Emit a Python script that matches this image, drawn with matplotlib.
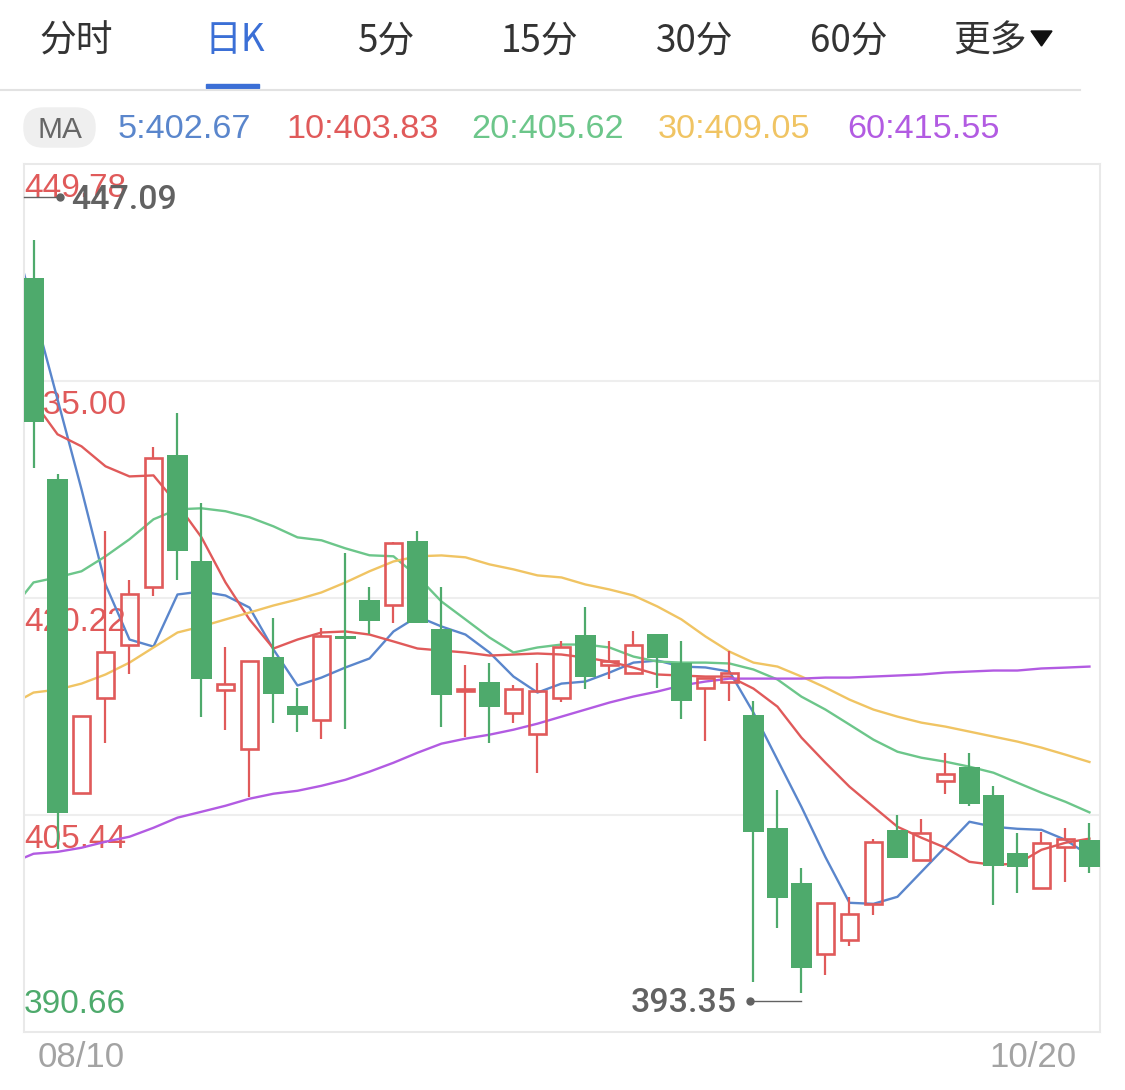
import numpy as np
import matplotlib.pyplot as plt
from matplotlib.patches import FancyBboxPatch, Rectangle, Polygon
from matplotlib.lines import Line2D
from matplotlib.transforms import blended_transform_factory, offset_copy

W, H = 1125, 1090

# daily candles, 08/10 .. 10/20
open_p = [442.00, 428.30, 406.96, 413.44, 417.05, 420.94, 429.94, 422.71, 413.98, 409.96,
          416.23, 412.89, 411.94, 417.64, 420.05, 419.71, 424.08, 418.08, 413.91, 414.53,
          412.41, 410.98, 413.44, 417.73, 415.69, 415.14, 417.80, 415.82, 414.12, 414.53,
          412.28, 404.57, 400.82, 395.98, 396.94, 399.39, 404.43, 402.39, 407.77, 408.73,
          406.82, 402.86, 400.48, 403.27, 403.75]
high_p = [444.59, 428.65, 412.21, 424.76, 421.42, 430.49, 432.81, 426.67, 416.85, 415.96,
          418.89, 414.12, 418.21, 423.26, 420.94, 424.01, 424.76, 420.94, 415.69, 415.76,
          414.32, 415.82, 417.32, 419.64, 417.26, 417.94, 417.80, 417.26, 414.80, 416.64,
          413.23, 407.16, 401.84, 399.46, 399.87, 403.82, 405.46, 405.18, 409.68, 409.68,
          407.43, 404.23, 404.30, 404.57, 404.91]
low_p = [429.05, 403.14, 406.96, 410.37, 415.07, 420.33, 421.42, 412.14, 411.25, 406.69,
         411.73, 411.12, 410.64, 411.32, 417.80, 418.55, 418.55, 411.46, 410.78, 410.37,
         411.73, 408.32, 413.16, 414.05, 414.67, 415.01, 414.12, 412.00, 410.50, 413.23,
         394.07, 397.75, 393.35, 394.55, 396.53, 398.64, 402.52, 402.39, 406.89, 406.07,
         399.32, 400.14, 400.48, 400.89, 401.50]
close_p = [432.19, 405.59, 412.21, 416.51, 420.46, 429.74, 423.39, 414.73, 414.39, 415.96,
           413.71, 412.28, 417.60, 417.40, 418.62, 423.94, 418.55, 413.64, 414.05, 412.82,
           414.05, 413.91, 416.91, 414.87, 415.96, 417.05, 416.10, 413.23, 414.80, 415.08,
           404.30, 399.80, 395.02, 399.46, 398.71, 403.62, 402.52, 404.23, 408.25, 406.21,
           401.98, 401.91, 403.55, 403.82, 401.91]

# moving averages, first value is the day before 08/10 (line runs off the left edge)
ma5 = [446.03, 439.89, 433.76, 427.62, 421.14, 417.39, 416.91, 420.46, 420.66, 420.39, 419.57,
       416.71, 414.26, 414.80, 415.49, 416.10, 417.94, 418.96, 418.28, 417.73, 416.51,
       414.87, 413.78, 414.39, 414.53, 415.14, 415.82, 415.96, 415.55, 415.49, 415.21,
       412.41, 409.20, 405.99, 402.57, 399.46, 399.39, 399.87, 401.57, 403.27, 404.98,
       404.64, 404.50, 404.43, 403.75, 402.67]
ma10 = [435.80, 433.62, 431.37, 430.55, 429.19, 428.50, 428.57, 426.60, 424.35, 421.28, 418.76,
        416.78, 417.39, 417.87, 417.94, 417.73, 417.26, 416.78, 416.64, 416.51, 416.30,
        416.37, 416.44, 416.37, 416.16, 415.89, 415.48, 415.01, 414.94, 414.87, 414.87,
        414.05, 412.82, 410.71, 409.00, 407.37, 406.00, 404.64, 403.89, 403.21, 402.25,
        402.05, 402.12, 403.07, 403.55, 403.83]
ma20 = [419.23, 421.28, 421.63, 422.04, 423.06, 424.22, 425.58, 426.26, 426.33, 426.13, 425.72,
        425.10, 424.35, 424.15, 423.60, 423.13, 423.06, 421.69, 419.98, 418.76, 417.53,
        416.51, 416.85, 417.05, 417.05, 416.85, 416.23, 415.89, 415.82, 415.82, 415.76,
        415.35, 414.67, 413.50, 412.62, 411.60, 410.57, 409.75, 409.34, 409.07, 408.73,
        408.32, 407.64, 406.96, 406.34, 405.62]
ma30 = [412.89, 413.78, 413.98, 414.39, 415.01, 415.82, 416.85, 417.87, 418.28, 418.76, 419.23,
        419.71, 420.12, 420.60, 421.28, 422.04, 422.71, 423.06, 423.12, 422.99, 422.51,
        422.17, 421.76, 421.62, 421.14, 420.80, 420.39, 419.64, 418.76, 417.60, 416.57,
        415.82, 415.55, 414.87, 414.12, 413.30, 412.62, 412.14, 411.73, 411.46, 411.12,
        410.78, 410.44, 410.03, 409.55, 409.05]
ma60 = [402.12, 402.80, 402.93, 403.21, 403.62, 403.96, 404.57, 405.26, 405.66, 406.07, 406.55,
        406.89, 407.09, 407.43, 407.84, 408.39, 409.00, 409.68, 410.30, 410.64, 410.91,
        411.25, 411.66, 412.14, 412.62, 413.10, 413.51, 413.85, 414.26, 414.53, 414.73,
        414.73, 414.73, 414.73, 414.80, 414.80, 414.87, 414.94, 415.01, 415.14, 415.21,
        415.28, 415.28, 415.42, 415.48, 415.55]

ma_names = ['5', '10', '20', '30', '60']
ma_colors = ['#5a86cc', '#e05a5a', '#6cc68a', '#f0c463', '#b25be2']

y_ticks = [449.78, 435.00, 420.22, 405.44, 390.66]
peak_label = 447.09
date_labels = ['08/10', '10/20']
date_idx = [2, 44]

tabs = ['分时', '日K', '5分', '15分', '30分', '60分', '更多']
tab_x = [76, 235, 387, 540, 695, 849, 990]

RED = '#e05a5a'
GREEN = '#4eaa6c'
GREY = '#666666'
NUM_FONT = ['Liberation Sans', 'DejaVu Sans']
MARK_FONT = ['Roboto', 'Liberation Sans', 'DejaVu Sans']
CJK_FONT = ['Noto Sans CJK SC', 'DejaVu Sans']


def fx(x):
    return x / W


def fy(y):
    return 1 - y / H


fig = plt.figure(figsize=(W / 100, H / 100), dpi=100)
fig.patch.set_facecolor('white')

# ---- header: period tabs ----
for i, t in enumerate(tabs):
    c = '#3b6fd6' if t == '日K' else '#333333'
    fig.text(fx(tab_x[i]), fy(41), t, ha='center', va='center', fontsize=26.5,
             color=c, family=CJK_FONT)
fig.patches.append(Polygon([[fx(1031), fy(31)], [fx(1052), fy(31)], [fx(1041.5), fy(46)]],
                           closed=True, color='#111111', transform=fig.transFigure))
fig.patches.append(Rectangle((fx(206), fy(88)), fx(53), 4 / H, color='#3b6fd6',
                             transform=fig.transFigure))
fig.lines.append(Line2D([0, fx(1080)], [fy(89.5)] * 2, color='#e2e2e2', lw=1.5,
                        transform=fig.transFigure))

# ---- MA legend row ----
fig.patches.append(FancyBboxPatch((fx(24), fy(147)), fx(71), 39 / H,
                                  boxstyle='round,pad=0,rounding_size=0.017',
                                  color='#efefef', transform=fig.transFigure))
fig.text(fx(59.5), fy(138), 'MA', ha='center', va='baseline', fontsize=21.5,
         color=GREY, family=NUM_FONT)
legend_x = [118, 286, 471, 658, 847]
for k in range(5):
    last = [ma5, ma10, ma20, ma30, ma60][k][-1]
    fig.text(fx(legend_x[k]), fy(138), f'{ma_names[k]}:{last:.2f}', ha='left',
             va='baseline', fontsize=24.7, color=ma_colors[k], family=NUM_FONT)

# ---- price panel ----
ax = fig.add_axes([fx(24), fy(1032), fx(1076), (1032 - 164) / H])
ax.set_xlim(-0.396, 44.44)
ax.set_ylim(y_ticks[-1], y_ticks[0])
ax.set_xticks([])
ax.set_yticks([])
for s in ax.spines.values():
    s.set_color('#e9e9e9')
    s.set_linewidth(1.5)
for v in y_ticks[1:-1]:
    ax.axhline(v, color='#eeeeee', lw=1.5, zorder=0)

# axis value labels sit inside the panel, under the candles
trans = blended_transform_factory(ax.transAxes, ax.transData)
for v in y_ticks:
    if v == y_ticks[-1]:
        tr = offset_copy(trans, fig=fig, x=0, y=19, units='dots')
        col = GREEN
    else:
        tr = offset_copy(trans, fig=fig, x=0, y=-33, units='dots')
        col = RED
    ax.text(0, v, f'{v:.2f}', transform=tr, ha='left', va='baseline', fontsize=24,
            color=col, family=NUM_FONT, zorder=1)

# moving average lines
x_ma = np.arange(-1, len(open_p))
for k, m in enumerate([ma5, ma10, ma20, ma30, ma60]):
    ax.plot(x_ma, m, color=ma_colors[k], lw=1.7, zorder=2, solid_joinstyle='round')

# candles
o = np.array(open_p)
c = np.array(close_p)
hi = np.array(high_p)
lo = np.array(low_p)
idx = np.arange(len(o))
up = c >= o
top = np.maximum(o, c)
bot = np.minimum(o, c)

for mask, col in [(up, RED), (~up, GREEN)]:
    ax.vlines(idx[mask], top[mask], hi[mask], color=col, lw=1.6, zorder=3)
    ax.vlines(idx[mask], lo[mask], bot[mask], color=col, lw=1.6, zorder=3)
ax.bar(idx[up], top[up] - bot[up], bottom=bot[up], width=0.74, facecolor='none',
       edgecolor=RED, lw=1.9, zorder=4)
ax.bar(idx[~up], np.maximum(top[~up] - bot[~up], 0.12), bottom=bot[~up], width=0.86,
       color=GREEN, lw=0, zorder=4)

# highest / lowest markers
MARK = '#626262'
hx = 1.1
hy = peak_label + 0.44
ax.plot([ax.get_xlim()[0], hx], [hy, hy], color=MARK, lw=1, zorder=5, clip_on=False)
ax.plot(hx, hy, 'o', color=MARK, ms=5, zorder=5)
tr_hi = offset_copy(ax.transData, fig=fig, x=11, y=-12, units='dots')
ax.text(hx, hy, f'{peak_label:.2f}', transform=tr_hi, ha='left', va='baseline',
        fontsize=24.5, fontweight='medium', color=MARK, family=MARK_FONT, zorder=5)

li = int(np.argmin(lo))
lx = li - 2.15
ly = lo[li] - 0.55
ax.plot([lx, li], [ly, ly], color=MARK, lw=1, zorder=5)
ax.plot(lx, ly, 'o', color=MARK, ms=5, zorder=5)
tr_lo = offset_copy(ax.transData, fig=fig, x=-13, y=-11, units='dots')
ax.text(lx, ly, f'{lo[li]:.2f}', transform=tr_lo, ha='right', va='baseline',
        fontsize=24.5, fontweight='medium', color=MARK, family=MARK_FONT, zorder=5)

# dates under the panel
fig.text(fx(33.5 + 24 * date_idx[0]), fy(1067), date_labels[0], ha='center',
         va='baseline', fontsize=25, color='#a3a3a3', family=NUM_FONT)
fig.text(fx(1076), fy(1067), date_labels[1], ha='right', va='baseline', fontsize=25,
         color='#a3a3a3', family=NUM_FONT)

fig.savefig('out.png', dpi=100, facecolor='white')
